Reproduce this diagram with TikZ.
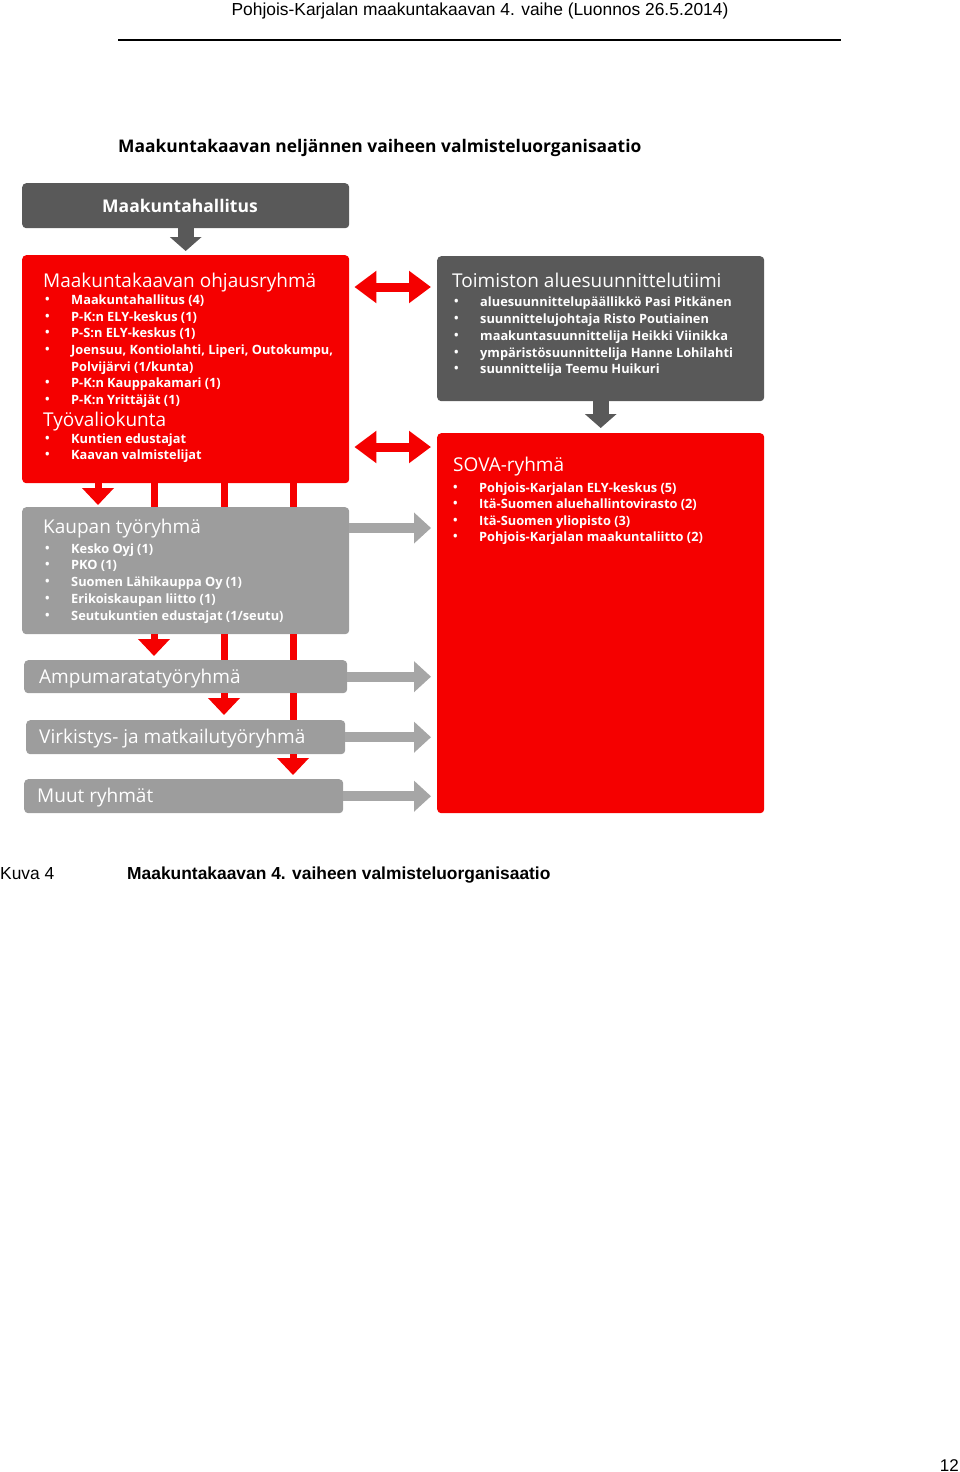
\documentclass[tikz,border=0pt]{standalone}
\usepackage{fontspec}
\setmainfont{Liberation Sans}
\newfontfamily\os{Open Sans}
\usetikzlibrary{arrows.meta}
\definecolor{kred}{RGB}{245,0,0}
\definecolor{kdark}{RGB}{89,89,89}
\definecolor{kgrey}{RGB}{157,157,157}
\definecolor{karrow}{RGB}{166,166,166}
\begin{document}
\begin{tikzpicture}[x=1pt,y=-1pt,
  box/.style={rounded corners=4pt, inner sep=0pt, anchor=north west, draw=none},
  darkbox/.style={box, fill=kdark},
  redbox/.style={box, fill=kred},
  greybox/.style={box, fill=kgrey},
  boxtitle/.style={anchor=base west, inner sep=0pt, text=white, font=\os\fontsize{19}{22}\selectfont},
  itemtxt/.style={anchor=base west, inner sep=0pt, text=white, font=\os\bfseries\fontsize{12.8}{15}\selectfont},
  redline/.style={draw=kred, line width=7pt},
  reddown/.style={draw=kred, line width=7pt, -{Triangle[length=17pt,width=31pt]}},
  reddouble/.style={draw=kred, line width=9pt, {Triangle[length=22pt,width=31pt]}-{Triangle[length=22pt,width=31pt]}},
  greyright/.style={draw=karrow, line width=10pt, -{Triangle[length=17pt,width=30pt]}},
  darkdown/.style={draw=kdark, line width=16pt, -{Triangle[length=14pt,width=31pt]}}
]
\useasboundingbox (0,0) rectangle (960,1472);
\newcommand{\bul}[1]{\makebox[26pt][l]{\raisebox{0.3pt}{\fontsize{12}{12}\selectfont•}}#1}

% header
\node[anchor=base, inner sep=0pt] (hdr) at (480,16) {\fontsize{17.4}{20}\selectfont Pohjois-Karjalan maakuntakaavan 4. vaihe (Luonnos 26.5.2014)};
\draw[line width=1.3pt] (118,40) -- (841,40);

% title
\node[anchor=base west, inner sep=0pt] (title) at (118,152) {\os\bfseries\fontsize{17.4}{20}\selectfont Maakuntakaavan neljännen vaiheen valmisteluorganisaatio};

% x positions of the vertical red connectors
\coordinate (xa) at (98,0);
\coordinate (xb) at (154,0);
\coordinate (xc) at (224,0);
\coordinate (xd) at (293,0);

% boxes
\node[darkbox, minimum width=327pt, minimum height=45pt] (mh) at (22,183) {};
\node[redbox, minimum width=327pt, minimum height=228pt] (ohj) at (22,255) {};
\node[darkbox, minimum width=327pt, minimum height=145pt] (toim) at (437,256) {};
\node[redbox, minimum width=327pt, minimum height=380pt] (sova) at (437,433) {};
\node[greybox, minimum width=327pt, minimum height=127pt] (kaup) at (22,507) {};
\node[greybox, minimum width=323pt, minimum height=33pt] (ampu) at (24,660) {};
\node[greybox, minimum width=319pt, minimum height=34pt] (virk) at (26,720) {};
\node[greybox, minimum width=319pt, minimum height=34pt] (muut) at (24,779) {};

% red connectors between boxes
\draw[reddown] (ohj.south -| xa) -- ([yshift=2pt]kaup.north -| xa);
\draw[redline] (ohj.south -| xb) -- (kaup.north -| xb);
\draw[redline] (ohj.south -| xc) -- (kaup.north -| xc);
\draw[redline] (ohj.south -| xd) -- (kaup.north -| xd);
\draw[reddown] (kaup.south -| xb) -- ([yshift=4pt]ampu.north -| xb);
\draw[redline] (kaup.south -| xc) -- (ampu.north -| xc);
\draw[redline] (kaup.south -| xd) -- (ampu.north -| xd);
\draw[reddown] (ampu.south -| xc) -- ([yshift=5pt]virk.north -| xc);
\draw[redline] (ampu.south -| xd) -- (virk.north -| xd);
\draw[reddown] (virk.south -| xd) -- ([yshift=4pt]muut.north -| xd);

% dark arrows
\draw[darkdown] (mh.south) -- ([yshift=4pt]ohj.north);
\draw[darkdown] (toim.south) -- ([yshift=5pt]sova.north);

% red double arrows
\draw[reddouble] ([shift={(5pt,-32pt)}]ohj.north east) -- ([shift={(-6pt,-31pt)}]toim.north west);
\draw[reddouble] ([shift={(5pt,-192pt)}]ohj.north east) -- ([shift={(-6pt,-14pt)}]sova.north west);

% grey arrows to SOVA
\coordinate (g1) at ([yshift=-21pt]kaup.north east);
\draw[greyright, shorten >=6pt] (g1) -- (sova.west |- g1);
\draw[greyright, shorten >=6pt] (ampu.east) -- (sova.west |- ampu.east);
\draw[greyright, shorten >=6pt] (virk.east) -- (sova.west |- virk.east);
\draw[greyright, shorten >=6pt] (muut.east) -- (sova.west |- muut.east);

% texts
\node[anchor=base, inner sep=0pt, text=white, font=\os\bfseries\fontsize{17.5}{20}\selectfont] (mht) at (180,212) {Maakuntahallitus};

\node[boxtitle] (ohjt) at (43,287) {Maakuntakaavan ohjausryhmä};
\node[itemtxt] (o1) at (45,304) {\bul{Maakuntahallitus (4)}};
\node[itemtxt] (o2) at (45,321) {\bul{P-K:n ELY-keskus (1)}};
\node[itemtxt] (o3) at (45,337) {\bul{P-S:n ELY-keskus (1)}};
\node[itemtxt] (o4) at (45,354) {\bul{Joensuu, Kontiolahti, Liperi, Outokumpu,}};
\node[itemtxt] (o5) at (71,371) {Polvijärvi (1/kunta)};
\node[itemtxt] (o6) at (45,387) {\bul{P-K:n Kauppakamari (1)}};
\node[itemtxt] (o7) at (45,404) {\bul{P-K:n Yrittäjät (1)}};
\node[boxtitle] (tyot) at (43,426) {Työvaliokunta};
\node[itemtxt] (t1) at (45,443) {\bul{Kuntien edustajat}};
\node[itemtxt] (t2) at (45,459) {\bul{Kaavan valmistelijat}};

\node[boxtitle] (toimt) at (452,287) {Toimiston aluesuunnittelutiimi};
\node[itemtxt] (s1) at (454,306) {\bul{aluesuunnittelupäällikkö Pasi Pitkänen}};
\node[itemtxt] (s2) at (454,323) {\bul{suunnittelujohtaja Risto Poutiainen}};
\node[itemtxt] (s3) at (454,340) {\bul{maakuntasuunnittelija Heikki Viinikka}};
\node[itemtxt] (s4) at (454,357) {\bul{ympäristösuunnittelija Hanne Lohilahti}};
\node[itemtxt] (s5) at (454,373) {\bul{suunnittelija Teemu Huikuri}};

\node[boxtitle] (sovat) at (453,471) {SOVA-ryhmä};
\node[itemtxt] (v1t) at (453,492) {\bul{Pohjois-Karjalan ELY-keskus (5)}};
\node[itemtxt] (v2t) at (453,508) {\bul{Itä-Suomen aluehallintovirasto (2)}};
\node[itemtxt] (v3t) at (453,525) {\bul{Itä-Suomen yliopisto (3)}};
\node[itemtxt] (v4t) at (453,541) {\bul{Pohjois-Karjalan maakuntaliitto (2)}};

\node[boxtitle] (kaupt) at (43,533) {Kaupan työryhmä};
\node[itemtxt] (k1t) at (45,553) {\bul{Kesko Oyj (1)}};
\node[itemtxt] (k2t) at (45,569) {\bul{PKO (1)}};
\node[itemtxt] (k3t) at (45,586) {\bul{Suomen Lähikauppa Oy (1)}};
\node[itemtxt] (k4t) at (45,603) {\bul{Erikoiskaupan liitto (1)}};
\node[itemtxt] (k5t) at (45,620) {\bul{Seutukuntien edustajat (1/seutu)}};

\node[boxtitle] (ampt) at (39,683) {Ampumaratatyöryhmä};
\node[boxtitle] (virt) at (39,743) {Virkistys- ja matkailutyöryhmä};
\node[boxtitle] (muutt) at (37,802) {Muut ryhmät};

% caption
\node[anchor=base west, inner sep=0pt] (kuva) at (0,879) {\fontsize{17.4}{20}\selectfont Kuva 4};
\node[anchor=base west, inner sep=0pt] (cap) at (127,879) {\bfseries\fontsize{17.4}{20}\selectfont Maakuntakaavan 4. vaiheen valmisteluorganisaatio};
\node[anchor=base east, inner sep=0pt] (pg) at (959,1471) {\fontsize{17}{20}\selectfont 12};
\end{tikzpicture}
\end{document}
